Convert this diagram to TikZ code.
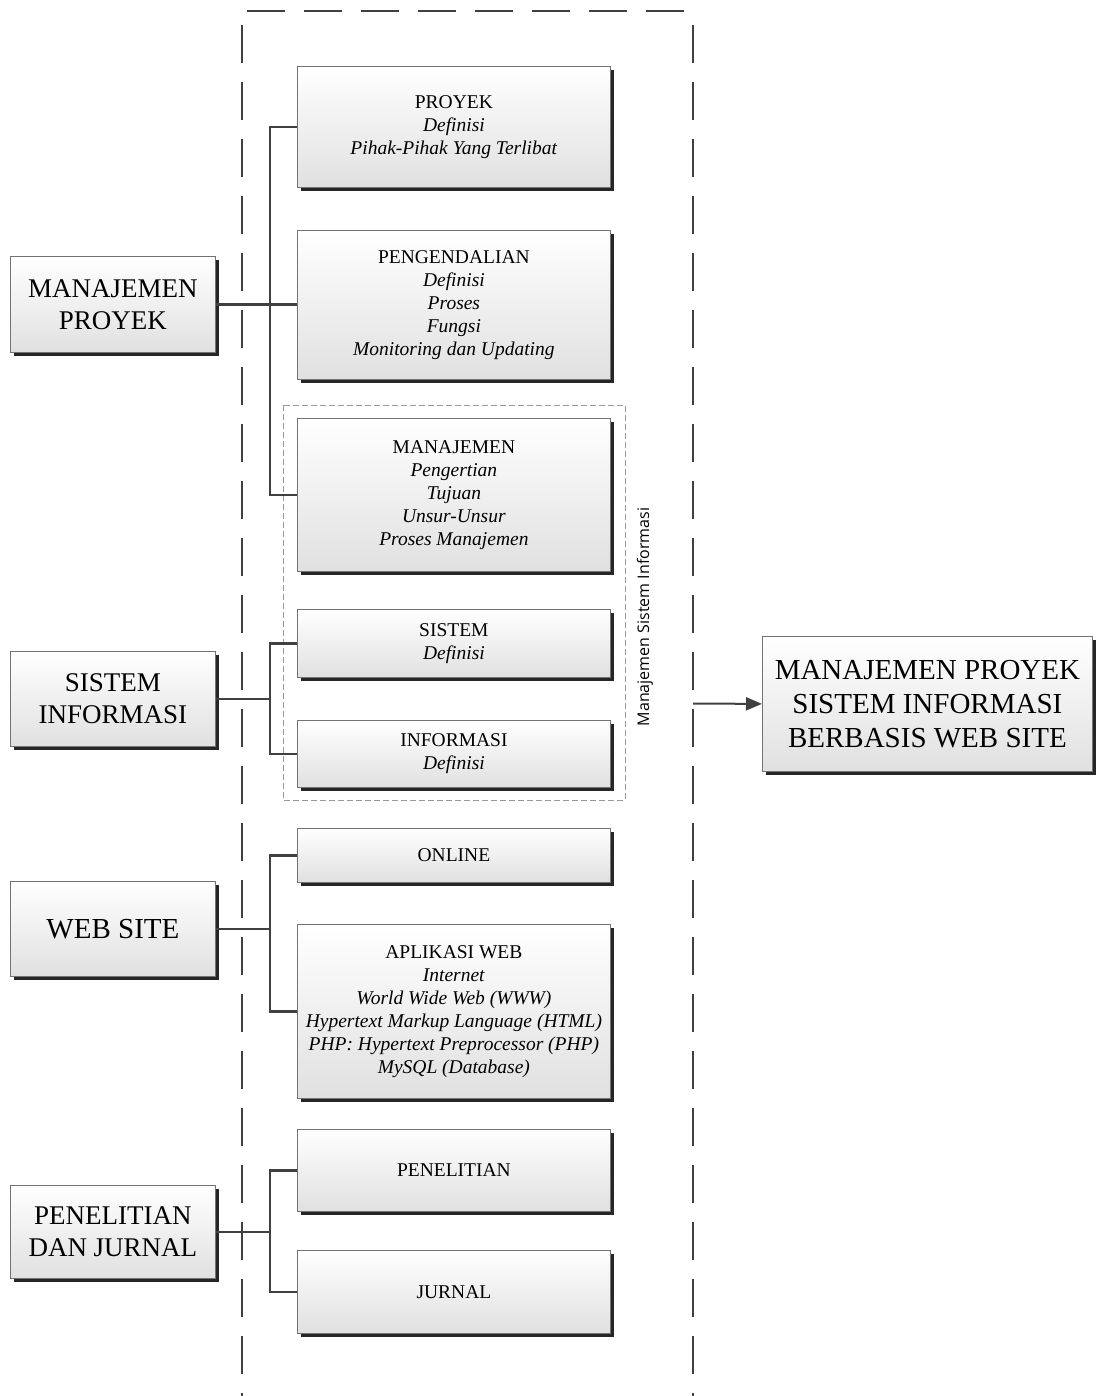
\documentclass[tikz,border=0pt]{standalone}
\usepackage{fontspec}
\setmainfont{Liberation Serif}
\newfontfamily\labfont{Open Sans}
\usetikzlibrary{shadows,arrows.meta}
\begin{document}
\begin{tikzpicture}[x=1pt,y=-1pt,
  box/.style={draw=black!55, line width=0.8pt, top color=white, bottom color=black!12,
    drop shadow={shadow xshift=4pt, shadow yshift=-4pt, fill=black!85, opacity=1},
    anchor=north west, align=center, inner sep=2pt},
  bigbox/.style={box, minimum width=205pt, font=\fontsize{27}{32}\selectfont},
  midbox/.style={box, minimum width=313pt, font=\fontsize{19.5}{23}\selectfont},
  conn/.style={draw=black!75, line width=2.4pt},
  outer/.style={draw=black!75, line width=2.5pt, dash pattern=on 38pt off 19pt},
  inner/.style={draw=black!40, line width=0.7pt, dash pattern=on 6pt off 3pt},
]
\useasboundingbox (0,0) rectangle (1095,1396);

% outer dashed frame
\draw[outer] (247,11) -- (690,11);
\draw[outer] (242,25) -- (242,1396);
\draw[outer] (693,25) -- (693,1396);

% inner dashed group
\draw[inner] (283,405) rectangle (625,800);
\node[font=\labfont\fontsize{16}{18}\selectfont, rotate=90] (msi) at (645,617) {Manajemen Sistem Informasi};

% left boxes
\node[bigbox, minimum height=96pt] (mp) at (10,256) {MANAJEMEN\\PROYEK};
\node[bigbox, minimum height=95pt] (si) at (10,651) {SISTEM\\INFORMASI};
\node[bigbox, minimum height=95pt, font=\fontsize{29}{32}\selectfont] (ws) at (10,881) {WEB SITE};
\node[bigbox, minimum height=93pt] (pj) at (10,1185) {PENELITIAN\\DAN JURNAL};

% middle boxes
\node[midbox, minimum height=121pt] (proyek) at (297,66) {PROYEK\\\textit{Definisi}\\\textit{Pihak-Pihak Yang Terlibat}};
\node[midbox, minimum height=149pt] (peng) at (297,230) {PENGENDALIAN\\\textit{Definisi}\\\textit{Proses}\\\textit{Fungsi}\\\textit{Monitoring dan Updating}};
\node[midbox, minimum height=153pt] (manaj) at (297,418) {MANAJEMEN\\\textit{Pengertian}\\\textit{Tujuan}\\\textit{Unsur-Unsur}\\\textit{Proses Manajemen}};
\node[midbox, minimum height=68pt] (sistem) at (297,609) {SISTEM\\\textit{Definisi}};
\node[midbox, minimum height=67pt] (info) at (297,720) {INFORMASI\\\textit{Definisi}};
\node[midbox, minimum height=54pt] (online) at (297,828) {ONLINE};
\node[midbox, minimum height=174pt] (aplikasi) at (297,924) {APLIKASI WEB\\\textit{Internet}\\\textit{World Wide Web (WWW)}\\\textit{Hypertext Markup Language (HTML)}\\\textit{PHP: Hypertext Preprocessor (PHP)}\\\textit{MySQL (Database)}};
\node[midbox, minimum height=82pt] (penel) at (297,1129) {PENELITIAN};
\node[midbox, minimum height=83pt] (jurnal) at (297,1250) {JURNAL};

% right box
\node[box, minimum width=330pt, minimum height=135pt, font=\fontsize{29}{34}\selectfont] (res) at (762,636) {MANAJEMEN PROYEK\\SISTEM INFORMASI\\BERBASIS WEB SITE};

% connectors
\coordinate (bx) at (270,0);
\draw[conn] (mp.east) -- (mp.east -| peng.west);
\draw[conn] (proyek.west) -- (proyek.west -| bx) -- (manaj.west -| bx) -- (manaj.west);

\draw[conn] (si.east) -- (si.east -| bx);
\draw[conn] (sistem.west) -- (sistem.west -| bx) -- (info.west -| bx) -- (info.west);

\draw[conn] (ws.east) -- (ws.east -| bx);
\draw[conn] (online.west) -- (online.west -| bx) -- (aplikasi.west -| bx) -- (aplikasi.west);

\draw[conn] (pj.east) -- (pj.east -| bx);
\draw[conn] (penel.west) -- (penel.west -| bx) -- (jurnal.west -| bx) -- (jurnal.west);

% output arrow
\coordinate (src) at (693,703.5);
\draw[conn, line width=2pt, -{Triangle[length=16pt,width=13pt]}] (src) -- (res.west);
\end{tikzpicture}
\end{document}
